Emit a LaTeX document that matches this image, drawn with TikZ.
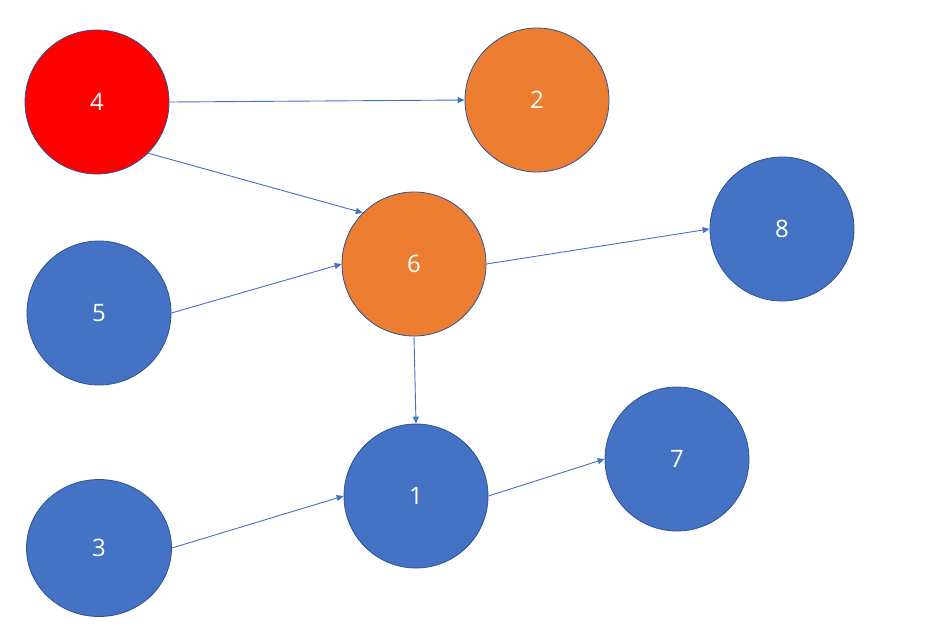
\documentclass[tikz,border=0pt]{standalone}
\usepackage{fontspec}
\setmainfont{Open Sans}
\usetikzlibrary{arrows.meta,shapes.geometric}
\definecolor{nblue}{HTML}{4472C4}
\definecolor{norange}{HTML}{ED7D31}
\definecolor{nred}{HTML}{FF0000}
\definecolor{nline}{HTML}{2F528F}
\begin{document}
\begin{tikzpicture}[x=1pt, y=-1pt,
  vtx/.style={ellipse, draw=nline, line width=0.8pt, inner sep=0pt,
    minimum width=144pt, minimum height=144pt, text=white,
    font=\fontsize{24}{28}\selectfont},
  blue/.style={vtx, fill=nblue},
  orange/.style={vtx, fill=norange},
  hot/.style={vtx, fill=nred},
  edge/.style={-{Triangle[length=7pt,width=6pt]}, draw=nblue, line width=0.9pt}
]
\useasboundingbox (0,0) rectangle (925,638);
\node[hot] (n4) at (97,102) {4};
\node[orange] (n2) at (537,100) {2};
\node[orange] (n6) at (414,264) {6};
\node[blue] (n8) at (782,229) {8};
\node[blue] (n5) at (99,313) {5};
\node[blue] (n1) at (416,496) {1};
\node[blue] (n7) at (677,459) {7};
\node[blue, minimum width=145pt, minimum height=137pt] (n3) at (99,548) {3};
\draw[edge] (n4.east) -- (n2.west);
\draw[edge] (n4.-45) -- (n6.135);
\draw[edge] (n5.east) -- (n6.west);
\draw[edge] (n6.east) -- (n8.west);
\draw[edge] (n6.south) -- (n1.north);
\draw[edge] (n3.east) -- (n1.west);
\draw[edge] (n1.east) -- (n7.west);
\end{tikzpicture}
\end{document}
